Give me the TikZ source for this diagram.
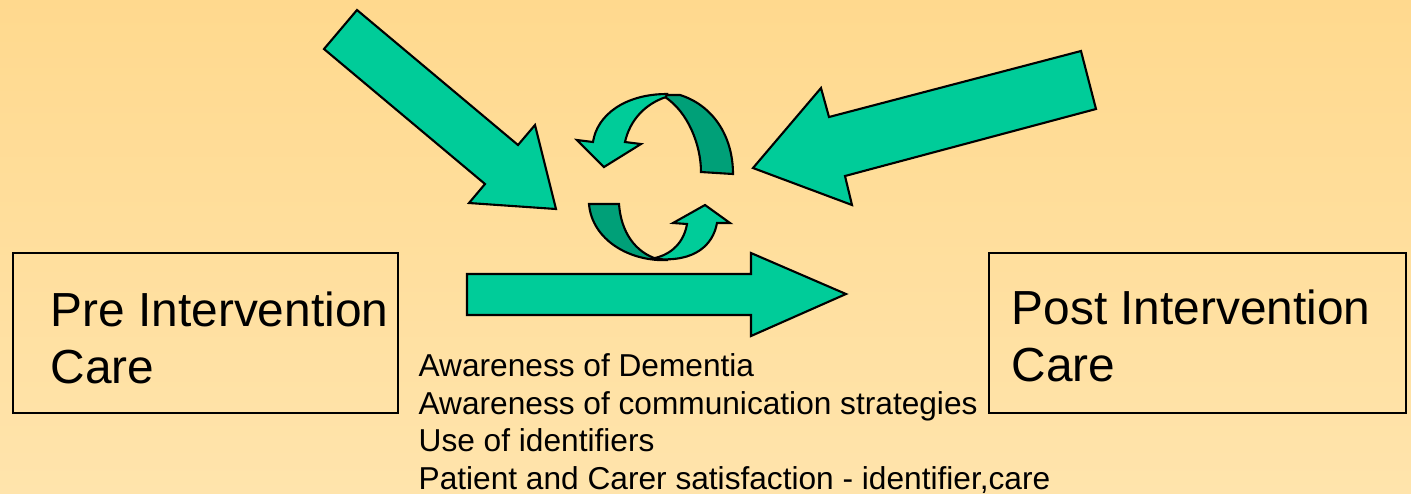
\documentclass[tikz,border=0pt]{standalone}
\usepackage{fontspec}
\setmainfont{Liberation Sans}
\usepackage{tikz}
\usetikzlibrary{positioning}
\definecolor{bgtop}{HTML}{FFD98E}
\definecolor{bgbottom}{HTML}{FFE4AC}
\definecolor{arrowgreen}{HTML}{00CC99}
\definecolor{arrowdark}{HTML}{00A078}

\begin{document}
\begin{tikzpicture}[x=0.01cm, y=-0.01cm,
  care/.style={draw, line width=0.5pt, inner sep=0pt, minimum height=1.6cm},
  block/.style={draw, fill=arrowgreen, line width=0.6pt, line join=miter},
  back/.style={draw, fill=arrowdark, line width=0.6pt},
  biglabel/.style={anchor=north west, inner sep=0pt, align=left,
  font=\fontsize{13.6}{16.2}\selectfont},
  smalllabel/.style={anchor=north west, inner sep=0pt, align=left,
  font=\fontsize{9}{10.7}\selectfont}]
  %% background
  \shade [top color=bgtop, bottom color=bgbottom] (0,0) rectangle (1411,493);
  \useasboundingbox (0,0) rectangle (1411,493);
  %% The two boxes
  \node [care, minimum width=3.85cm] (pre) at (205.5,333) {};
  \node [care, minimum width=4.17cm] (post) at (1197.5,333) {};
  \node [biglabel] (prelabel) at (50,291) {Pre Intervention\\Care};
  \node [biglabel] (postlabel) at (1011,289) {Post Intervention\\Care};
  %% Measures
  \node [smalllabel] (measures) at (418,353) {Awareness of Dementia\\
    Awareness of communication strategies\\
    Use of identifiers\\
    Patient and Carer satisfaction - identifier,care};
  %% Block arrows
  \filldraw [block] (357,10) -- (518,145) -- (535,125) -- (556,209)
    -- (469,203) -- (485,184) -- (324,49) -- cycle;
  \filldraw [block] (1081,51) -- (1096,109) -- (845,176) -- (852,205)
    -- (753,168) -- (821,88) -- (829,117) -- cycle;
  \filldraw [block] (467,274) -- (751,274) -- (751,253) -- (846,294)
    -- (751,336) -- (751,315) -- (467,315) -- cycle;
  %% Cycle, upper half
  \filldraw [back] (665,95) -- (680,95) .. controls (712,105) and (733,135) .. (733,174)
    -- (701,172) .. controls (701,145) and (688,112) .. (665,97) -- cycle;
  \filldraw [block] (667,94) .. controls (625,94) and (597,115) .. (593,142)
    -- (577,140) -- (604,167) -- (641,144) -- (625,142)
    .. controls (630,120) and (645,104) .. (666,97) -- cycle;
  %% Cycle, lower half
  \filldraw [back] (589,204) -- (619,204) .. controls (621,232) and (635,252) .. (657,259)
    -- (668,260) .. controls (630,262) and (592,240) .. (589,204) -- cycle;
  \filldraw [block] (657,259) .. controls (695,262) and (713,245) .. (717,223)
    -- (730,223) -- (705,205) -- (673,223) -- (687,224)
    .. controls (684,242) and (672,254) .. (655,258) -- cycle;
\end{tikzpicture}
\end{document}
